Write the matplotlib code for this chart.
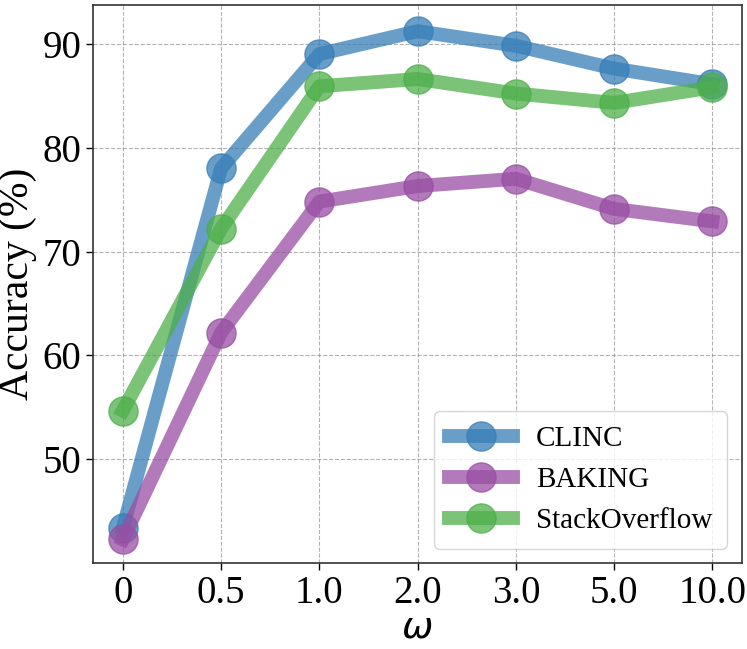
import numpy as np
import matplotlib.pyplot as plt

plt.rcParams['font.family'] = ['Liberation Serif', 'DejaVu Serif']

# omega values (categorical positions on x)
omega_labels = ["0", "0.5", "1.0", "2.0", "3.0", "5.0", "10.0"]

clinc = [43.4, 78.0, 89.0, 91.2, 89.8, 87.6, 86.1]
baking = [42.3, 62.2, 74.8, 76.3, 77.0, 74.1, 72.9]
stackoverflow = [54.7, 72.2, 85.9, 86.6, 85.2, 84.3, 85.8]

x = np.arange(len(omega_labels))

fig, ax = plt.subplots(figsize=(7.47, 6.49), dpi=100)

ax.plot(x, clinc, color="#377eb8", lw=10, marker="o", markersize=21, alpha=0.75, label="CLINC")
ax.plot(x, baking, color="#984ea3", lw=10, marker="o", markersize=21, alpha=0.75, label="BAKING")
ax.plot(x, stackoverflow, color="#4daf4a", lw=10, marker="o", markersize=21, alpha=0.75, label="StackOverflow")

ax.set_xticks(x)
ax.set_xticklabels(omega_labels)
ax.set_yticks([50, 60, 70, 80, 90])
ax.set_xlim(-0.3, 6.3)
ax.set_ylim(40, 93.7)
ax.tick_params(labelsize=28, length=5, width=1)

ax.grid(True, linestyle="--", color="gray", alpha=0.6, lw=0.8)
for s in ax.spines.values():
    s.set_color("#333333")
    s.set_linewidth(1.2)

ax.set_ylabel("Accuracy (%)", fontsize=30)
ax.set_xlabel("ω", fontsize=27, family="DejaVu Sans", style="italic", labelpad=-2)

ax.legend(loc="lower right", fontsize=21, handlelength=2.2, borderpad=0.5, labelspacing=0.5)

plt.subplots_adjust(left=0.125, right=0.993, top=0.992, bottom=0.132)
plt.savefig("out.png")
